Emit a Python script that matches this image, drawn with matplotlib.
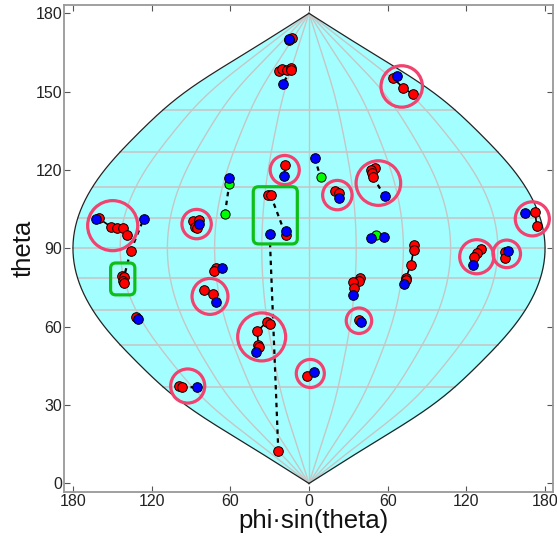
import numpy as np
import matplotlib
matplotlib.use("Agg")
import matplotlib.pyplot as plt
from matplotlib.patches import Ellipse, FancyBboxPatch

plt.rcParams['font.family'] = ['Liberation Sans', 'DejaVu Sans']

# sources: x = phi*sin(theta), y = theta
red_x = [-160.4, -150.8, -146.2, -141.6, -138.6, -136.0, -142.9, -141.1, -142.1, -141.1,
         -88.7, -83.7, -87.0, -85.2, -31.0, -29.2, -17.8, -23.4, -13.0, -15.3,
         -22.7, -20.8, -17.0, -13.7, -14.0, 64.1, 71.9, 79.1, -18.3, 20.1,
         22.7, 50.6, 47.5, 48.1, 49.0, 80.1, 79.9, 77.6, 73.8, 73.8,
         131.2, 127.9, 125.9, 149.7, 149.7, 172.4, 173.7, 38.7, 38.4, 33.6,
         34.3, 37.9, -1.8, -70.9, -72.1, -80.3, -73.5, -132.0, -32.0, -29.7,
         -39.4, -38.7, -37.9, -99.2, -97.1]
red_y = [101.5, 98.2, 97.9, 97.9, 95.2, 89.0, 79.4, 78.9, 77.6, 76.8,
         100.6, 100.8, 98.0, 97.8, 110.3, 110.3, 95.1, 12.4, 170.7, 169.8,
         158.0, 158.6, 158.3, 159.2, 158.3, 155.3, 151.4, 149.1, 122.0, 111.8,
         111.1, 120.9, 120.0, 118.8, 117.3, 91.4, 89.4, 83.7, 78.5, 77.9,
         89.7, 88.1, 86.6, 88.5, 86.2, 103.9, 98.5, 78.5, 77.5, 77.2,
         74.7, 62.7, 41.2, 82.5, 81.3, 74.0, 72.6, 63.7, 61.9, 61.0,
         58.3, 52.9, 52.1, 37.4, 36.9]

blue_x = [-162.5, -126.1, -83.9, -61.0, -30.0, -17.3, -15.3, -20.1, 67.1, 4.3,
          -18.8, 23.1, 57.7, 47.3, 57.2, 72.2, 124.9, 152.0, 165.0, 33.3,
          39.4, 4.0, -66.4, -70.7, -130.4, -40.7, -85.2]
blue_y = [101.3, 101.3, 99.2, 116.9, 95.5, 96.7, 170.2, 153.0, 155.9, 124.6,
          117.7, 109.3, 109.9, 93.9, 94.2, 76.4, 83.7, 88.9, 103.4, 72.2,
          61.9, 42.7, 82.5, 69.3, 63.0, 50.3, 36.8]

green_x = [-64.1, -60.8, 8.9, 51.3]
green_y = [103.2, 114.7, 117.2, 95.0]

# dotted links between associated sources
link_x = [[-136.0, -126.1], [-136.0, -141.1], [-64.1, -60.8], [-29.2, -17.8], [-30.0, -23.4],
          [4.3, 8.9], [49.0, 57.7], [-97.1, -85.2], [-13.7, -20.1]]
link_y = [[89.0, 101.3], [89.0, 79.0], [103.2, 114.7], [110.3, 95.1], [95.5, 12.4],
          [124.6, 117.2], [117.3, 109.9], [36.9, 36.8], [158.3, 153.0]]

# solid links inside tight groups
chain_x = [[-160.4, -150.8, -141.6, -138.6], [64.1, 71.9, 79.1], [-18.3, -18.8],
           [47.3, 51.3, 57.2], [79.9, 77.6, 73.8], [165.0, 172.4, 173.7],
           [-32.0, -39.4, -38.7], [-73.5, -70.7], [34.3, 33.3]]
chain_y = [[101.5, 98.2, 97.9, 95.2], [155.3, 151.4, 149.1], [122.0, 117.7],
           [93.9, 95.0, 94.2], [89.4, 83.7, 78.5], [103.4, 103.9, 98.5],
           [61.9, 58.3, 52.9], [72.6, 69.3], [74.7, 72.2]]

# pink rings: centre and radius in x units
ring_x = [-149.7, -85.7, -18.5, 21.6, 52.9, 70.7, 170.3, 150.8, 127.9, 38.1, 1.0, -75.5, -36.1, -92.5]
ring_y = [98.7, 99.3, 120.0, 110.4, 115.0, 152.0, 101.3, 87.9, 86.8, 62.3, 42.1, 71.6, 56.1, 37.3]
ring_r = [19.1, 11.2, 11.1, 11.2, 17.0, 15.8, 13.0, 10.5, 13.0, 9.7, 10.7, 13.7, 18.3, 13.0]

# green boxes: x0, x1, y0, y1
box_x0 = [-151.3, -42.5]
box_x1 = [-132.8, -8.9]
box_y0 = [72.2, 91.7]
box_y1 = [84.4, 113.6]

tick_x = [-180, -120, -60, 0, 60, 120, 180]
tick_y = [0, 30, 60, 90, 120, 150, 180]
grid_theta = [36.9, 53.1, 66.4, 78.5, 90, 101.5, 113.6, 126.9, 143.1]
grid_phi = [-144, -108, -72, -36, 0, 36, 72, 108, 144]


def half_width(t):
    # sine outline, the picture bulges a little near theta 30 and 150
    t = np.asarray(t, dtype=float)
    base = 180 * np.sin(np.radians(t))
    bulge = 4 * np.sin(np.radians(3 * t)) ** 4
    return base + np.where((t < 60) | (t > 120), bulge, 0)


W, H = 557, 538
fig = plt.figure(figsize=(W / 100, H / 100), dpi=100)
ax = fig.add_axes([64.3 / W, 1 - 492.3 / H, (553.3 - 64.3) / W, (492.3 - 4.7) / H])
ax.set_xlim(-186.6, 186.3)
ax.set_ylim(-3.4, 183.3)
y_per_x = 1.311 / 2.611

# sky background
theta = np.linspace(0, 180, 361)
edge = half_width(theta)
ax.fill_betweenx(theta, -edge, edge, color='#a3ffff', lw=0, zorder=1)

# grid
for t in grid_theta:
    e = half_width(t)
    ax.plot([-e, e], [t, t], color='#c6c6c6', lw=1.2, zorder=2)
for p in grid_phi:
    ax.plot(p / 180 * edge, theta, color='#c6c6c6', lw=1.0, zorder=2)
ax.plot(edge, theta, color='#222222', lw=0.9, zorder=3)
ax.plot(-edge, theta, color='#222222', lw=0.9, zorder=3)

for lx, ly in zip(link_x, link_y):
    ax.plot(lx, ly, color='black', lw=1.6, ls=(0, (2, 2)), zorder=4)
for lx, ly in zip(chain_x, chain_y):
    ax.plot(lx, ly, color='black', lw=1.2, zorder=4)

ax.scatter(green_x, green_y, s=44, c='#00ff00', edgecolors='black', linewidths=0.7, zorder=5)
ax.scatter(red_x, red_y, s=48, c='#ff0000', edgecolors='black', linewidths=0.7, zorder=6)
ax.scatter(blue_x, blue_y, s=48, c='#0000ff', edgecolors='black', linewidths=0.7, zorder=7)

for x, y, r in zip(ring_x, ring_y, ring_r):
    ax.add_patch(Ellipse((x, y), 2 * r, 2 * r * y_per_x, fill=False, ec='#f2426f', lw=2.3, zorder=8))
for x0, x1, y0, y1 in zip(box_x0, box_x1, box_y0, box_y1):
    ax.add_patch(FancyBboxPatch((x0, y0), x1 - x0, y1 - y0, boxstyle='round,pad=0,rounding_size=4',
                                mutation_aspect=y_per_x, fill=False, ec='#0fbf18', lw=2.3, zorder=8))

ax.set_xticks(tick_x)
ax.set_xticklabels([str(abs(v)) for v in tick_x])
ax.set_yticks(tick_y)
ax.tick_params(direction='in', top=True, right=True, length=4, width=0.8, color='#555555',
               labelsize=11.5, labelcolor='#222222', pad=1.5)
for s in ax.spines.values():
    s.set_color('#999999')
    s.set_linewidth(1.3)

fig.text(313 / W, 1 - 528 / H, 'phi\u00b7sin(theta)', fontsize=18.5, ha='center', va='baseline', color='#111111')
fig.text(24 / W, 1 - 248 / H, 'theta', fontsize=18.5, rotation=90, ha='center', va='center', color='#111111')

fig.savefig('out.png', dpi=100)
